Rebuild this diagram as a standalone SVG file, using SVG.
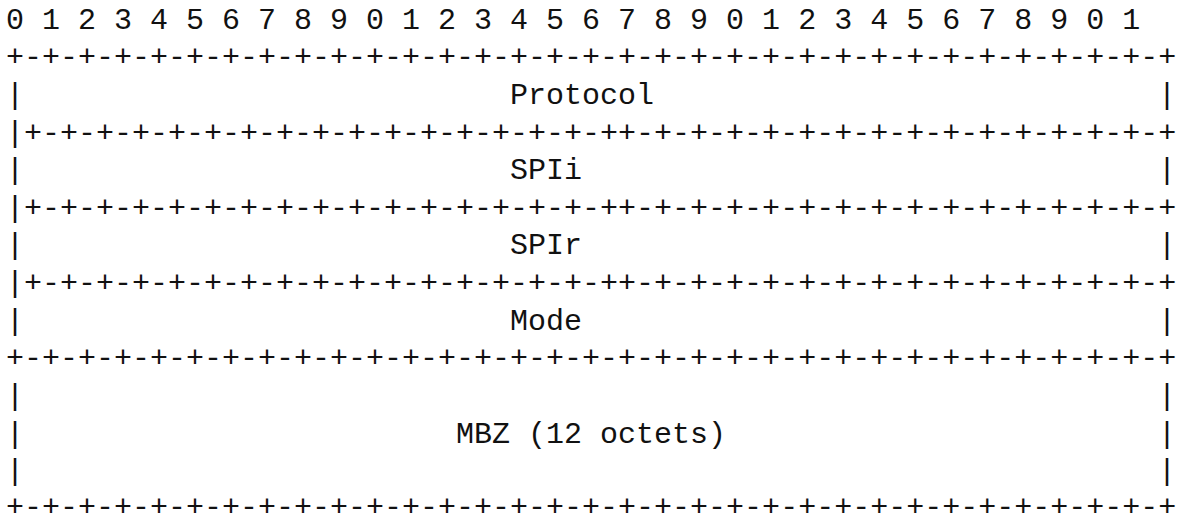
<svg xmlns="http://www.w3.org/2000/svg" width="1182" height="520" viewBox="0 0 1182 520">
<style>
text{font-family:"Liberation Mono","DejaVu Sans Mono",monospace;font-size:30px;fill:#111}
</style>
<rect width="1182" height="520" fill="#fff"/>
<g id="ruler"><text x="6" y="28.5">0 1 2 3 4 5 6 7 8 9 0 1 2 3 4 5 6 7 8 9 0 1 2 3 4 5 6 7 8 9 0 1</text></g>
<g id="connectors">
<text x="6" y="66.2">+-+-+-+-+-+-+-+-+-+-+-+-+-+-+-+-+-+-+-+-+-+-+-+-+-+-+-+-+-+-+-+-+</text>
<text x="6" y="141.5">|+-+-+-+-+-+-+-+-+-+-+-+-+-+-+-+-++-+-+-+-+-+-+-+-+-+-+-+-+-+-+-+</text>
<text x="6" y="216.8">|+-+-+-+-+-+-+-+-+-+-+-+-+-+-+-+-++-+-+-+-+-+-+-+-+-+-+-+-+-+-+-+</text>
<text x="6" y="292.1">|+-+-+-+-+-+-+-+-+-+-+-+-+-+-+-+-++-+-+-+-+-+-+-+-+-+-+-+-+-+-+-+</text>
<text x="6" y="367.4">+-+-+-+-+-+-+-+-+-+-+-+-+-+-+-+-+-+-+-+-+-+-+-+-+-+-+-+-+-+-+-+-+</text>
<text x="6" y="515.5">+-+-+-+-+-+-+-+-+-+-+-+-+-+-+-+-+-+-+-+-+-+-+-+-+-+-+-+-+-+-+-+-+</text>
</g>
<g id="protocol"><text x="6" y="103.8">|</text><text x="510" y="103.8">Protocol</text><text x="1158" y="103.8">|</text></g>
<g id="spii"><text x="6" y="179.1">|</text><text x="510" y="179.1">SPIi</text><text x="1158" y="179.1">|</text></g>
<g id="spir"><text x="6" y="254.4">|</text><text x="510" y="254.4">SPIr</text><text x="1158" y="254.4">|</text></g>
<g id="mode"><text x="6" y="329.7">|</text><text x="510" y="329.7">Mode</text><text x="1158" y="329.7">|</text></g>
<g id="mbz">
<text x="6" y="405">|</text><text x="1158" y="405">|</text>
<text x="6" y="442.7">|</text><text x="456" y="442.7" xml:space="preserve">MBZ (12 octets)</text><text x="1158" y="442.7">|</text>
<text x="6" y="480.3">|</text><text x="1158" y="480.3">|</text>
</g>
</svg>
